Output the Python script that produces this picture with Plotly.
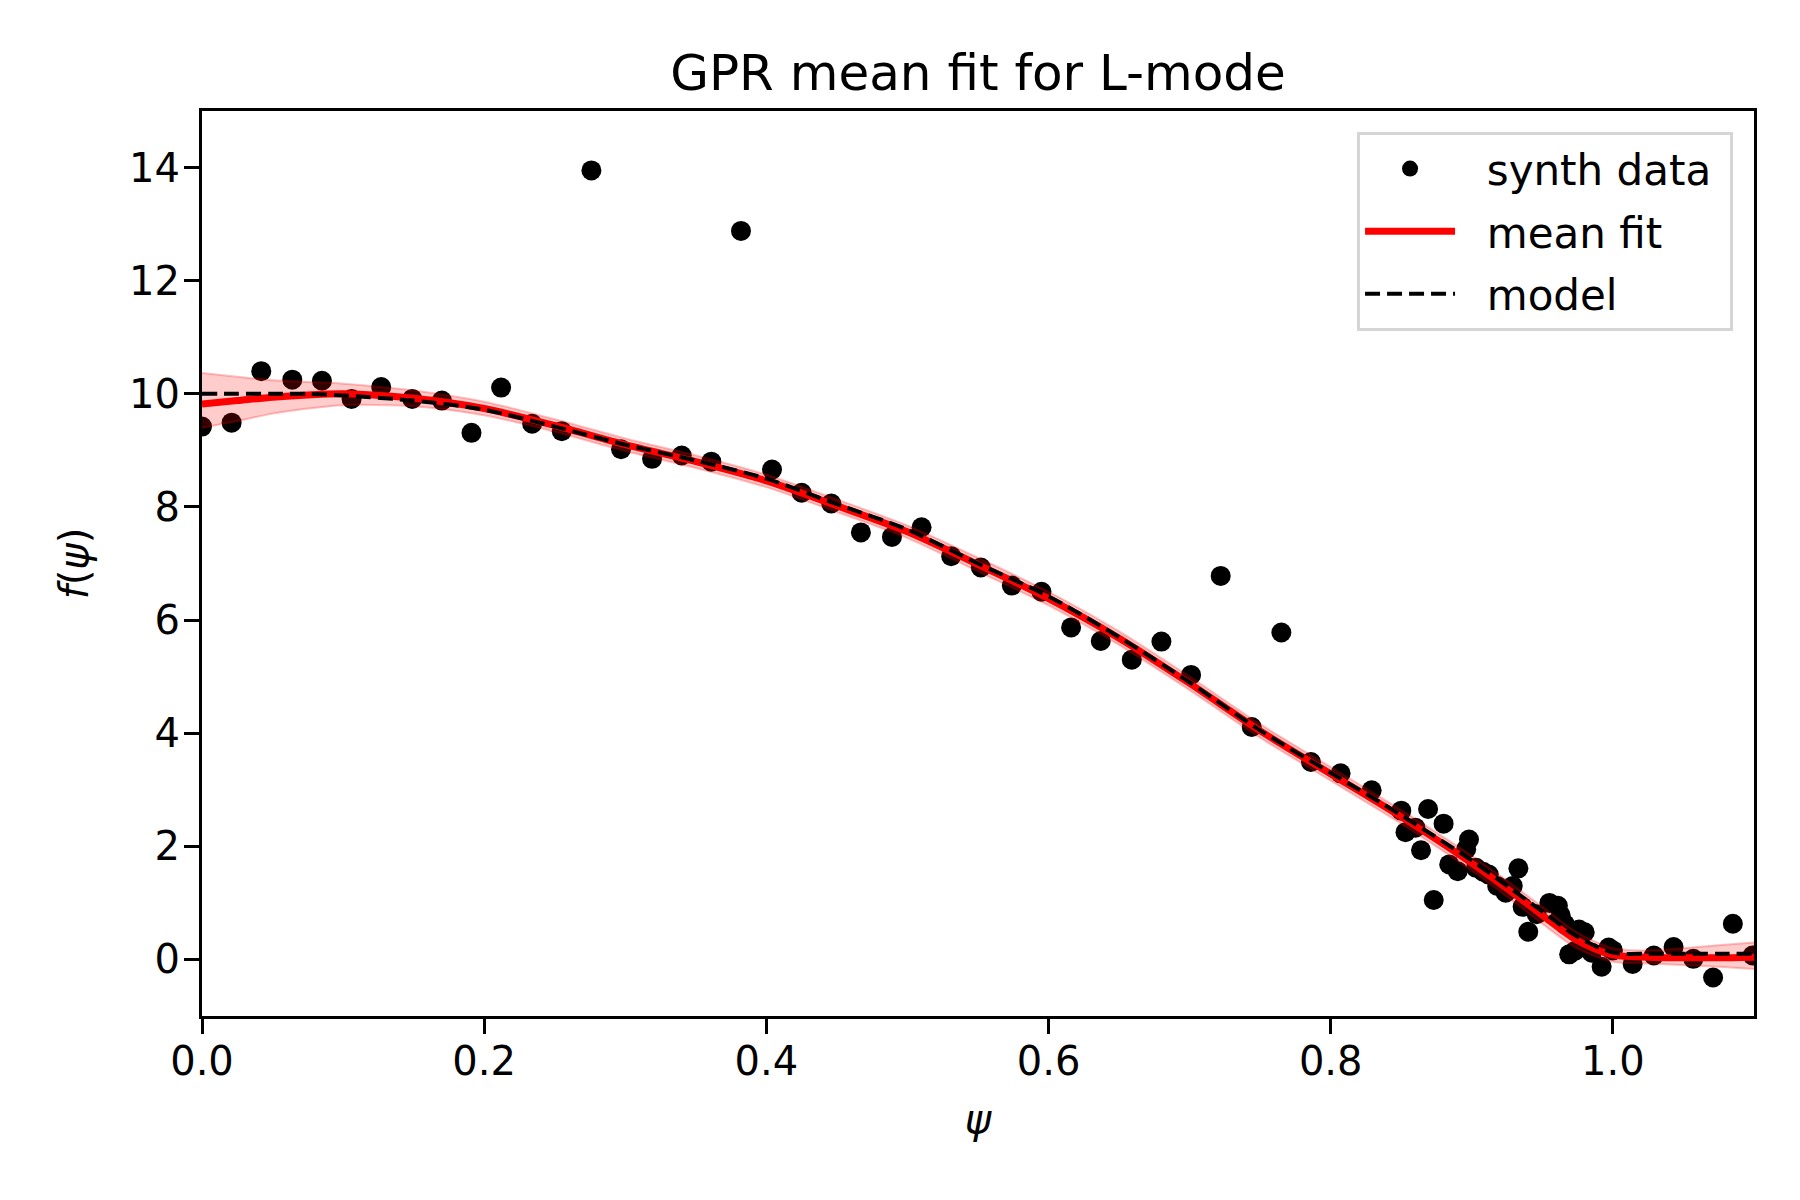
import plotly.graph_objects as go

# ---- synthetic data points ----
psi_data = [0.000, 0.021, 0.042, 0.064, 0.085, 0.106, 0.127, 0.149, 0.170, 0.191,
            0.212, 0.234, 0.255, 0.276, 0.297, 0.319, 0.340, 0.361, 0.382, 0.404,
            0.425, 0.446, 0.467, 0.489, 0.510, 0.531, 0.552, 0.574, 0.595, 0.616,
            0.637, 0.659, 0.680, 0.701, 0.722, 0.744, 0.765, 0.786, 0.807, 0.829,
            0.850, 0.853, 0.860, 0.864, 0.869, 0.873, 0.880, 0.884, 0.890, 0.896,
            0.898, 0.903, 0.908, 0.912, 0.918, 0.924, 0.929, 0.933, 0.936, 0.940,
            0.946, 0.955, 0.961, 0.963, 0.966, 0.969, 0.973, 0.976, 0.980, 0.985,
            0.992, 0.997, 1.000, 1.014, 1.029, 1.043, 1.057, 1.071, 1.085, 1.099]
f_data = [9.42, 9.49, 10.40, 10.25, 10.23, 9.91, 10.12, 9.91, 9.88, 9.31,
          10.11, 9.47, 9.34, 13.95, 9.02, 8.85, 8.91, 8.80, 12.88, 8.66,
          8.25, 8.06, 7.55, 7.47, 7.64, 7.13, 6.93, 6.61, 6.50, 5.87,
          5.63, 5.30, 5.62, 5.03, 6.78, 4.11, 5.78, 3.49, 3.29, 2.99,
          2.63, 2.25, 2.33, 1.93, 2.66, 1.05, 2.40, 1.68, 1.56, 1.95,
          2.12, 1.62, 1.55, 1.50, 1.30, 1.18, 1.30, 1.61, 0.93, 0.49,
          0.80, 1.00, 0.95, 0.78, 0.62, 0.09, 0.15, 0.53, 0.48, 0.12,
          -0.13, 0.21, 0.16, -0.08, 0.07, 0.22, 0.01, -0.32, 0.63, 0.07]

# ---- curves on a psi grid ----
psi_grid = [0.0, 0.025, 0.05, 0.075, 0.1, 0.15, 0.2, 0.25, 0.3, 0.35, 0.4, 0.45,
            0.5, 0.55, 0.6, 0.65, 0.7, 0.75, 0.8, 0.85, 0.9, 0.925, 0.95, 0.975,
            1.0, 1.025, 1.05, 1.075, 1.1]
model = [10.0, 10.0, 10.0, 10.0, 9.97, 9.88, 9.72, 9.42, 9.10, 8.82, 8.50, 8.05,
         7.60, 7.00, 6.42, 5.70, 4.90, 4.05, 3.30, 2.55, 1.75, 1.30, 0.85, 0.40,
         0.12, 0.10, 0.10, 0.10, 0.10]
mean_fit = [9.82, 9.88, 9.94, 9.98, 10.0, 9.92, 9.74, 9.44, 9.10, 8.80, 8.46, 8.02,
            7.56, 6.98, 6.38, 5.68, 4.88, 4.04, 3.28, 2.52, 1.70, 1.25, 0.78, 0.33,
            0.08, 0.04, 0.03, 0.03, 0.04]
lower = [9.40, 9.52, 9.65, 9.74, 9.80, 9.78, 9.62, 9.33, 8.99, 8.69, 8.35, 7.91,
         7.45, 6.86, 6.26, 5.56, 4.76, 3.92, 3.16, 2.40, 1.57, 1.11, 0.63, 0.19,
         -0.04, -0.07, -0.10, -0.13, -0.17]
upper = [10.37, 10.30, 10.24, 10.21, 10.18, 10.06, 9.86, 9.55, 9.21, 8.91, 8.57, 8.13,
         7.67, 7.10, 6.50, 5.80, 5.00, 4.16, 3.40, 2.64, 1.83, 1.39, 0.93, 0.47,
         0.20, 0.16, 0.20, 0.25, 0.30]

x_ticks = [0.0, 0.2, 0.4, 0.6, 0.8, 1.0]
y_ticks = [0, 2, 4, 6, 8, 10, 12, 14]

FONT = "DejaVu Sans"
NB = "\u00a0\u00a0"

fig = go.Figure()

fig.add_trace(go.Scatter(
    x=psi_data, y=f_data, mode="markers", name=NB + "synth data" + "\u00a0", legendgroup="a", legendrank=1,
    marker=dict(color="black", size=20, line=dict(width=0)),
))

# uncertainty band
fig.add_trace(go.Scatter(
    x=psi_grid, y=upper, mode="lines", legendgroup="band",
    line=dict(color="rgba(255,0,0,0.25)", width=2, shape="spline", smoothing=0.8),
    showlegend=False, hoverinfo="skip",
))
fig.add_trace(go.Scatter(
    x=psi_grid, y=lower, mode="lines", legendgroup="band",
    line=dict(color="rgba(255,0,0,0.25)", width=2, shape="spline", smoothing=0.8),
    fill="tonexty", fillcolor="rgba(255,0,0,0.2)",
    showlegend=False, hoverinfo="skip",
))

fig.add_trace(go.Scatter(
    x=psi_grid, y=mean_fit, mode="lines", name=NB + "mean fit", legendgroup="b", legendrank=2,
    line=dict(color="#ff0000", width=7, shape="spline", smoothing=0.8),
))
fig.add_trace(go.Scatter(
    x=psi_grid, y=model, mode="lines", name=NB + "model", legendgroup="c", legendrank=3,
    line=dict(color="black", width=4, dash="15px,7px", shape="spline", smoothing=0.8),
))

axis_common = dict(
    showline=True, linecolor="black", linewidth=3, mirror=True,
    ticks="outside", ticklen=15, tickwidth=3, tickcolor="black",
    showgrid=False, zeroline=False,
    tickfont=dict(family=FONT, size=40, color="black"),
)

fig.update_layout(
    width=1800, height=1200,
    paper_bgcolor="white", plot_bgcolor="white",
    margin=dict(l=194, r=54, t=103, b=192),
    title=dict(text="GPR mean fit for L-mode", x=0.5389, xanchor="center",
               y=1 - 64 / 1200, yanchor="middle",
               font=dict(family=FONT, size=50, color="black")),
    xaxis=dict(range=[0, 1.1], tickvals=x_ticks, ticktext=[f"{v:.1f}" for v in x_ticks],
               ticklabelstandoff=-7,
               title=dict(text="<i>ψ</i>", standoff=22,
                          font=dict(family=FONT, size=40, color="black")),
               **axis_common),
    yaxis=dict(range=[-1, 15], tickvals=y_ticks, ticktext=[str(v) for v in y_ticks],
               ticklabelstandoff=-4,
               title=dict(text="<i>f</i>(<i>ψ</i>)", standoff=29,
                          font=dict(family=FONT, size=40, color="black")),
               **axis_common),
    legend=dict(x=0.9865, y=0.977, xanchor="right", yanchor="top",
                bgcolor="rgba(255,255,255,0.8)", bordercolor="#d5d5d5", borderwidth=3,
                font=dict(family=FONT, size=42, color="black"),
                itemwidth=90, tracegroupgap=5, traceorder="grouped"),
    showlegend=True,
)

fig.write_html("out.html")
